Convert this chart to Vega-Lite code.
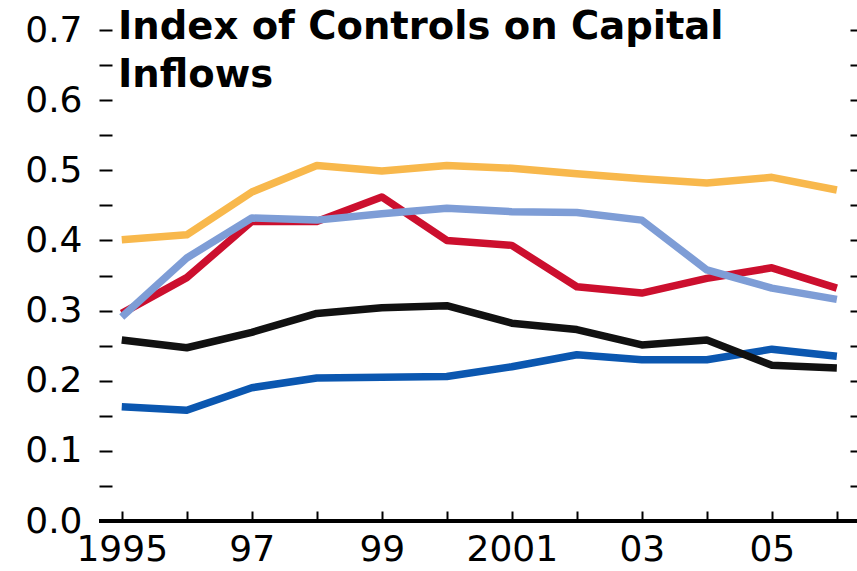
{
  "$schema": "https://vega.github.io/schema/vega-lite/v6.json",
  "width": 758,
  "height": 519,
  "autosize": {"type": "none"},
  "padding": {"left": 99, "top": 2, "right": 0, "bottom": 50},
  "background": "white",
  "config": {"view": {"stroke": null}},
  "title": {
    "text": ["Index of Controls on Capital", "Inflows"],
    "anchor": "start",
    "frame": "group",
    "orient": "top",
    "offset": 0,
    "dx": 19,
    "dy": 93,
    "baseline": "top",
    "font": "DejaVu Sans",
    "fontSize": 38.5,
    "fontWeight": "bold",
    "lineHeight": 48,
    "color": "black"
  },
  "data": {
    "values": [
      {"year": 1995, "series": "Series 1", "value": 0.163},
      {"year": 1996, "series": "Series 1", "value": 0.158},
      {"year": 1997, "series": "Series 1", "value": 0.19},
      {"year": 1998, "series": "Series 1", "value": 0.204},
      {"year": 1999, "series": "Series 1", "value": 0.205},
      {"year": 2000, "series": "Series 1", "value": 0.206},
      {"year": 2001, "series": "Series 1", "value": 0.22},
      {"year": 2002, "series": "Series 1", "value": 0.237},
      {"year": 2003, "series": "Series 1", "value": 0.23},
      {"year": 2004, "series": "Series 1", "value": 0.23},
      {"year": 2005, "series": "Series 1", "value": 0.245},
      {"year": 2006, "series": "Series 1", "value": 0.235},
      {"year": 1995, "series": "Series 2", "value": 0.258},
      {"year": 1996, "series": "Series 2", "value": 0.247},
      {"year": 1997, "series": "Series 2", "value": 0.269},
      {"year": 1998, "series": "Series 2", "value": 0.296},
      {"year": 1999, "series": "Series 2", "value": 0.304},
      {"year": 2000, "series": "Series 2", "value": 0.307},
      {"year": 2001, "series": "Series 2", "value": 0.282},
      {"year": 2002, "series": "Series 2", "value": 0.273},
      {"year": 2003, "series": "Series 2", "value": 0.251},
      {"year": 2004, "series": "Series 2", "value": 0.258},
      {"year": 2005, "series": "Series 2", "value": 0.222},
      {"year": 2006, "series": "Series 2", "value": 0.218},
      {"year": 1995, "series": "Series 3", "value": 0.401},
      {"year": 1996, "series": "Series 3", "value": 0.408},
      {"year": 1997, "series": "Series 3", "value": 0.469},
      {"year": 1998, "series": "Series 3", "value": 0.507},
      {"year": 1999, "series": "Series 3", "value": 0.499},
      {"year": 2000, "series": "Series 3", "value": 0.507},
      {"year": 2001, "series": "Series 3", "value": 0.503},
      {"year": 2002, "series": "Series 3", "value": 0.495},
      {"year": 2003, "series": "Series 3", "value": 0.488},
      {"year": 2004, "series": "Series 3", "value": 0.482},
      {"year": 2005, "series": "Series 3", "value": 0.49},
      {"year": 2006, "series": "Series 3", "value": 0.472},
      {"year": 1995, "series": "Series 4", "value": 0.296},
      {"year": 1996, "series": "Series 4", "value": 0.347},
      {"year": 1997, "series": "Series 4", "value": 0.427},
      {"year": 1998, "series": "Series 4", "value": 0.427},
      {"year": 1999, "series": "Series 4", "value": 0.462},
      {"year": 2000, "series": "Series 4", "value": 0.4},
      {"year": 2001, "series": "Series 4", "value": 0.393},
      {"year": 2002, "series": "Series 4", "value": 0.334},
      {"year": 2003, "series": "Series 4", "value": 0.325},
      {"year": 2004, "series": "Series 4", "value": 0.346},
      {"year": 2005, "series": "Series 4", "value": 0.361},
      {"year": 2006, "series": "Series 4", "value": 0.332},
      {"year": 1995, "series": "Series 5", "value": 0.291},
      {"year": 1996, "series": "Series 5", "value": 0.375},
      {"year": 1997, "series": "Series 5", "value": 0.432},
      {"year": 1998, "series": "Series 5", "value": 0.429},
      {"year": 1999, "series": "Series 5", "value": 0.438},
      {"year": 2000, "series": "Series 5", "value": 0.446},
      {"year": 2001, "series": "Series 5", "value": 0.441},
      {"year": 2002, "series": "Series 5", "value": 0.44},
      {"year": 2003, "series": "Series 5", "value": 0.429},
      {"year": 2004, "series": "Series 5", "value": 0.358},
      {"year": 2005, "series": "Series 5", "value": 0.332},
      {"year": 2006, "series": "Series 5", "value": 0.316}
    ]
  },
  "layer": [
    {
      "mark": {"type": "rule", "color": "black", "strokeWidth": 2.5},
      "encoding": {
        "y": {
          "datum": 0,
          "type": "quantitative",
          "scale": {"domain": [0, 0.74], "nice": false, "zero": true},
          "axis": {
            "orient": "left",
            "values": [0, 0.05, 0.1, 0.15, 0.2, 0.25, 0.3, 0.35, 0.4, 0.45, 0.5, 0.55, 0.6, 0.65, 0.7],
            "labelExpr": "round(datum.value * 100) % 10 == 0 ? format(datum.value, '.1f') : ''",
            "domain": false,
            "grid": false,
            "ticks": true,
            "tickSize": 13,
            "tickWidth": 2,
            "tickColor": "black",
            "offset": -13,
            "labelPadding": 17,
            "labelFont": "DejaVu Sans",
            "labelFontSize": 36,
            "labelColor": "black",
            "labelBaseline": "middle",
            "labelFlush": false,
            "labelOverlap": false,
            "title": null
          }
        }
      }
    },
    {
      "mark": {"type": "line", "strokeWidth": 7.5, "strokeCap": "butt", "strokeJoin": "round"},
      "encoding": {
        "x": {
          "field": "year",
          "type": "quantitative",
          "scale": {"domain": [1994.65, 2006.31], "nice": false, "zero": false},
          "axis": {
            "orient": "bottom",
            "values": [1995, 1996, 1997, 1998, 1999, 2000, 2001, 2002, 2003, 2004, 2005, 2006],
            "labelExpr": "datum.value % 2 == 1 ? ((datum.value == 1995 || datum.value == 2001) ? toString(datum.value) : substring(toString(datum.value), 2)) : ''",
            "domain": false,
            "grid": false,
            "tickSize": 10,
            "tickWidth": 2,
            "tickColor": "black",
            "offset": -10,
            "labelPadding": 11,
            "labelFont": "DejaVu Sans",
            "labelFontSize": 36,
            "labelColor": "black",
            "labelBaseline": "top",
            "labelFlush": false,
            "labelOverlap": false,
            "title": null
          }
        },
        "y": {
          "field": "value",
          "type": "quantitative",
          "scale": {"domain": [0, 0.74], "nice": false, "zero": true},
          "axis": {
            "orient": "right",
            "values": [0.05, 0.1, 0.15, 0.2, 0.25, 0.3, 0.35, 0.4, 0.45, 0.5, 0.55, 0.6, 0.65, 0.7],
            "labels": false,
            "domain": false,
            "grid": false,
            "tickSize": 7,
            "tickWidth": 2,
            "tickColor": "black",
            "offset": -7,
            "title": null
          }
        },
        "color": {
          "field": "series",
          "type": "nominal",
          "scale": {
            "domain": ["Series 1", "Series 2", "Series 3", "Series 4", "Series 5"],
            "range": ["#0B57B0", "#111111", "#F8B84C", "#CC0F2E", "#7E9DD6"]
          },
          "legend": null
        },
        "order": {"field": "year"}
      }
    }
  ],
  "resolve": {"scale": {"y": "independent"}}
}
